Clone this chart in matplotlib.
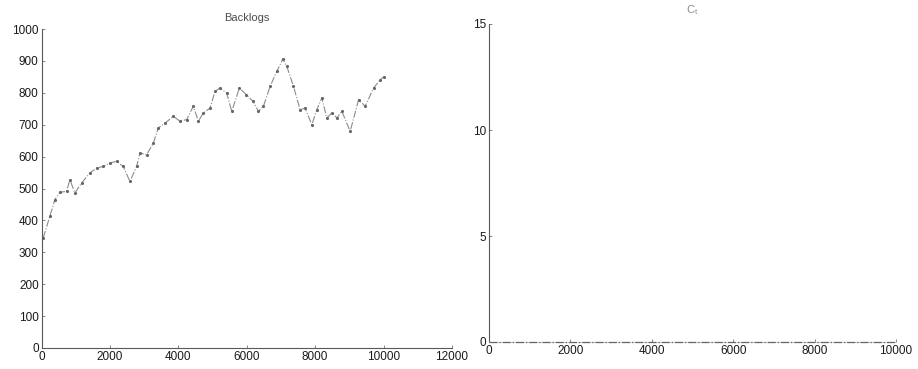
import matplotlib
matplotlib.use("Agg")
import matplotlib.pyplot as plt
import numpy as np

plt.rcParams['font.family'] = ['Liberation Sans', 'DejaVu Sans']

# Backlogs series
backlog_x = [50, 244, 390, 537, 732, 830, 976, 1171, 1415, 1610, 1805, 2000, 2195,
             2390, 2585, 2780, 2878, 3073, 3268, 3415, 3610, 3854, 4049, 4244, 4439,
             4585, 4732, 4927, 5073, 5220, 5415, 5561, 5785, 5990, 6185, 6341, 6488,
             6683, 6878, 7054, 7171, 7366, 7561, 7707, 7902, 8049, 8195, 8341, 8488,
             8634, 8780, 9024, 9268, 9463, 9707, 9902, 10000]
backlog_y = [345, 413, 465, 488, 491, 528, 486, 517, 549, 564, 569, 580, 585,
             569, 522, 569, 611, 606, 642, 690, 705, 726, 711, 716, 758,
             711, 737, 752, 805, 815, 799, 742, 815, 794, 773, 742, 758,
             820, 867, 906, 883, 820, 747, 752, 700, 747, 784, 721, 737,
             721, 742, 679, 778, 758, 815, 841, 850]

# C_t series (flat at zero)
ct_x = [0, 2000, 4000, 6000, 8000, 10000]
ct_y = [0, 0, 0, 0, 0, 0]

left_xticks = [0, 2000, 4000, 6000, 8000, 10000, 12000]
left_yticks = [0, 100, 200, 300, 400, 500, 600, 700, 800, 900, 1000]
right_xticks = [0, 2000, 4000, 6000, 8000, 10000]
right_yticks = [0, 5, 10, 15]

W, H = 918, 369
fig = plt.figure(figsize=(W / 100, H / 100), dpi=100)
fig.patch.set_facecolor('white')

def pos(x0, y0, x1, y1):
    return [x0 / W, 1 - y1 / H, (x1 - x0) / W, (y1 - y0) / H]

ax1 = fig.add_axes(pos(41.5, 29, 452, 348))
ax2 = fig.add_axes(pos(489, 24, 896, 342))

ax1.plot(backlog_x, backlog_y, color='0.55', linestyle='-.', linewidth=0.8,
         marker='.', markersize=2.5, markerfacecolor='0.4', markeredgecolor='0.4')
ax1.set_xlim(0, 12000)
ax1.set_ylim(0, 1000)
ax1.set_xticks(left_xticks)
ax1.set_yticks(left_yticks)
ax1.set_title('Backlogs', fontsize=8, color='0.3', pad=6)

ax2.plot(ct_x, ct_y, color='0.4', linestyle='-.', linewidth=0.9,
         clip_on=False, zorder=5)
ax2.set_xlim(0, 10000)
ax2.set_ylim(0, 15)
ax2.set_xticks(right_xticks)
ax2.set_yticks(right_yticks)
ax2.set_title('C$_\\mathregular{t}$', fontsize=8, color='0.55', pad=8)

for ax in (ax1, ax2):
    for s in ('top', 'right'):
        ax.spines[s].set_visible(False)
    for s in ('left', 'bottom'):
        ax.spines[s].set_color('0.35')
        ax.spines[s].set_linewidth(0.8)
    ax.tick_params(direction='in', length=2.5, width=0.6, colors='0.45',
                   labelsize=8.5, labelcolor='0.1', pad=2)
    ax.set_facecolor('white')

ax2.spines['bottom'].set_color('0.8')

fig.savefig('out.png', dpi=100, facecolor='white')
